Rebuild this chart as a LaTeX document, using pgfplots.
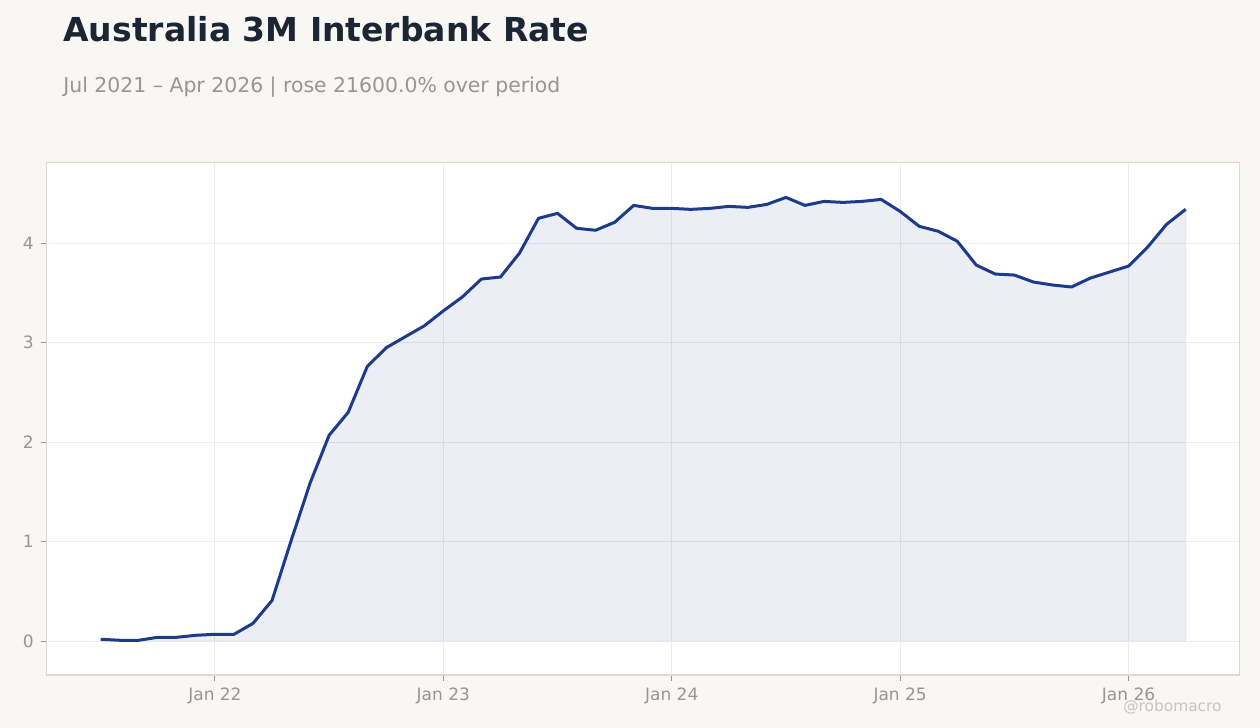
\documentclass[border=0pt]{standalone}
\usepackage{fontspec}
\setmainfont{DejaVu Sans}
\usepackage{pgfplots}
\pgfplotsset{compat=1.18}

\definecolor{bg}{HTML}{F8F7F4}
\definecolor{framec}{HTML}{DDD8D0}
\definecolor{ticktext}{HTML}{999590}
\definecolor{titlec}{HTML}{1C2533}
\definecolor{linec}{HTML}{1E3A8A}
\definecolor{gridc}{HTML}{ECECEC}
\definecolor{wm}{HTML}{C8C5C0}

% month index: Jan 2021 = 0
\pgfplotstableread{
m    v
6    0.02
7    0.01
8    0.01
9    0.04
10   0.04
11   0.06
12   0.07
13   0.07
14   0.18
15   0.41
16   1.01
17   1.59
18   2.07
19   2.30
20   2.76
21   2.95
22   3.06
23   3.17
24   3.32
25   3.46
26   3.64
27   3.66
28   3.90
29   4.25
30   4.30
31   4.15
32   4.13
33   4.21
34   4.38
35   4.35
36   4.35
37   4.34
38   4.35
39   4.37
40   4.36
41   4.39
42   4.46
43   4.38
44   4.42
45   4.41
46   4.42
47   4.44
48   4.32
49   4.17
50   4.12
51   4.02
52   3.78
53   3.69
54   3.68
55   3.61
56   3.58
57   3.56
58   3.65
59   3.71
60   3.77
61   3.96
62   4.19
63   4.34
}\ratedata

\begin{document}
\begin{tikzpicture}
\fill[bg] (0,0) rectangle (630pt,364pt);
\useasboundingbox (0,0) rectangle (630pt,364pt);

\node[anchor=base west, inner sep=0pt, text=titlec,
      font=\bfseries\fontsize{16.5}{20}\selectfont] at (31.5pt,343pt)
      {Australia 3M Interbank Rate};
\node[anchor=base west, inner sep=0pt, text=ticktext,
      font=\fontsize{10.2}{12}\selectfont] at (31.5pt,317.7pt)
      {Jul 2021 – Apr 2026 | rose 21600.0\% over period};

\begin{axis}[
    at={(23.35pt,26.5pt)}, anchor=south west,
    scale only axis, width=596.3pt, height=256.2pt,
    xmin=3.16, xmax=65.82, ymin=-0.339, ymax=4.81,
    axis background/.style={fill=white},
    axis line style={framec, line width=0.6pt},
    xtick={12,24,36,48,60},
    xticklabels={Jan 22,Jan 23,Jan 24,Jan 25,Jan 26},
    ytick={0,1,2,3,4},
    tick pos=left, tick align=outside,
    major tick length=3pt,
    tick style={ticktext, line width=0.5pt},
    ticklabel style={text=ticktext, font=\fontsize{8.5}{10}\selectfont},
    /pgf/number format/assume math mode=true,
    grid=major,
    major grid style={gridc, line width=0.5pt},
  ]
  \addplot[draw=linec!12, fill=linec, fill opacity=0.085, line width=0.6pt]
    table[x=m, y=v] {\ratedata} \closedcycle;
  \addplot[linec, line width=1.5pt, line join=round] table[x=m, y=v] {\ratedata};
\end{axis}

\node[anchor=base east, inner sep=0pt, text=wm,
      font=\fontsize{7.7}{9}\selectfont] at (611pt,8pt) {@robomacro};
\end{tikzpicture}
\end{document}
